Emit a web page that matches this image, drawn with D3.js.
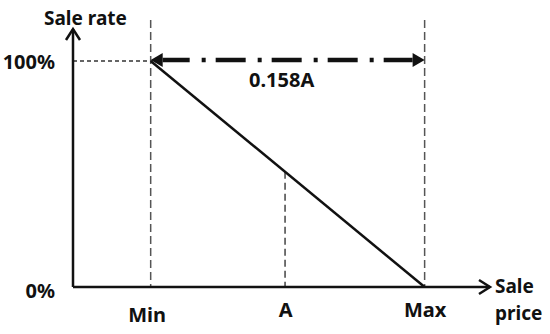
<!DOCTYPE html>
<html>
<head>
<meta charset="utf-8">
<script src="https://cdn.jsdelivr.net/npm/d3@7"></script>
<style>
  body { margin: 0; background: #fff; }
  text { font-family: "Noto Sans", sans-serif; font-weight: bold; fill: #111; }
</style>
</head>
<body>
<div id="chart"></div>
<script>
// price positions relative to A (A = 1), gap Max - Min = 0.158A
var priceLabels = ["Min", "A", "Max"];
var priceValues = [0.9225, 1, 1.0805];
var rateLabels = ["0%", "100%"];
var rateValues = [0, 1];
var gapLabel = "0.158A";

var width = 550,
    height = 334;

var x = d3.scaleLinear().domain([0.8777, 1.1182]).range([73, 490]);
var y = d3.scaleLinear().domain([0, 1]).range([287, 61]);

var svg = d3.select("#chart")
  .append("svg")
    .attr("width", width)
    .attr("height", height);

var minP = priceValues[0],
    aP = priceValues[1],
    maxP = priceValues[2];

// sale line: 100% at Min down to 0% at Max
var saleLine = [
  { price: minP, rate: rateValues[1] },
  { price: maxP, rate: rateValues[0] }
];
var rateAtA = rateValues[1] + (aP - minP) / (maxP - minP) * (rateValues[0] - rateValues[1]);

// guide lines
svg.append("g")
  .selectAll("line")
  .data([minP, maxP])
  .enter()
    .append("line")
    .attr("x1", function(d) { return x(d); })
    .attr("x2", function(d) { return x(d); })
    .attr("y1", y(1.181))
    .attr("y2", y(0))
    .attr("stroke", "#555")
    .attr("stroke-width", 1.5)
    .attr("stroke-dasharray", "8,4");

svg.append("line")
  .attr("x1", x(aP)).attr("x2", x(aP))
  .attr("y1", y(rateAtA)).attr("y2", y(0))
  .attr("stroke", "#444")
  .attr("stroke-width", 1.5)
  .attr("stroke-dasharray", "7,4");

svg.append("line")
  .attr("x1", x(0.8777)).attr("x2", x(minP))
  .attr("y1", y(1)).attr("y2", y(1))
  .attr("stroke", "#333")
  .attr("stroke-width", 1.3)
  .attr("stroke-dasharray", "4,3");

// diagonal sale rate line
var line = d3.line()
  .x(function(d) { return x(d.price); })
  .y(function(d) { return y(d.rate); });

svg.append("path")
  .datum(saleLine)
  .attr("d", line)
  .attr("fill", "none")
  .attr("stroke", "#111")
  .attr("stroke-width", 2.5);

// axes
var x0 = x(0.8777), y0 = y(0);
var yTop = y(1.1416), xEnd = x(1.1182);

svg.append("line")
  .attr("x1", x0).attr("x2", x0).attr("y1", y0).attr("y2", yTop)
  .attr("stroke", "#111").attr("stroke-width", 2.5);
svg.append("line")
  .attr("x1", x0).attr("x2", xEnd).attr("y1", y0).attr("y2", y0)
  .attr("stroke", "#111").attr("stroke-width", 2.5);

svg.append("path")
  .attr("d", "M" + (x0 - 7) + "," + (yTop + 11) + "L" + x0 + "," + yTop + "L" + (x0 + 7) + "," + (yTop + 11))
  .attr("fill", "none").attr("stroke", "#111").attr("stroke-width", 2.5);
svg.append("path")
  .attr("d", "M" + (xEnd - 11) + "," + (y0 - 7) + "L" + xEnd + "," + y0 + "L" + (xEnd - 11) + "," + (y0 + 7))
  .attr("fill", "none").attr("stroke", "#111").attr("stroke-width", 2.5);

var xAxis = d3.axisBottom(x)
  .tickValues(priceValues)
  .tickFormat(function(d, i) { return priceLabels[i]; })
  .tickSize(0)
  .tickPadding(19);

var gx = svg.append("g")
  .attr("transform", "translate(0," + y0 + ")")
  .call(xAxis);
gx.select(".domain").remove();
gx.selectAll("text")
  .attr("font-size", "20px")
  .attr("font-family", null)
  .attr("fill", "#111")
  .attr("dx", function(d, i) { return i === 0 ? -4 : 0; })
  .attr("y", function(d, i) { return i === 0 ? 21 : 16; });

var yAxis = d3.axisLeft(y)
  .tickValues(rateValues)
  .tickFormat(function(d, i) { return rateLabels[i]; })
  .tickSize(0)
  .tickPadding(18);

var gy = svg.append("g")
  .attr("transform", "translate(" + x0 + ",0)")
  .call(yAxis);
gy.select(".domain").remove();
gy.selectAll("text")
  .attr("font-size", "20px")
  .attr("font-family", null)
  .attr("fill", "#111")
  .attr("dy", function(d, i) { return i === 0 ? "0.5em" : "0.38em"; });

// axis titles
svg.append("text")
  .attr("x", 44).attr("y", 25)
  .attr("font-size", "19px")
  .text("Sale rate");

svg.append("text")
  .attr("x", xEnd + 5).attr("y", 293)
  .attr("font-size", "19px")
  .text("Sale");
svg.append("text")
  .attr("x", xEnd + 5).attr("y", 320)
  .attr("font-size", "19px")
  .text("price");

// dash-dot double arrow between Min and Max at 100%
var ay = y(1) - 1;
var head = 12;
svg.append("line")
  .attr("x1", x(minP) + head).attr("x2", x(maxP) - head)
  .attr("y1", ay).attr("y2", ay)
  .attr("stroke", "#111")
  .attr("stroke-width", 4.5)
  .attr("stroke-dasharray", "30,12,4,10")
  .attr("stroke-dashoffset", 3);

svg.append("path")
  .attr("d", "M" + x(minP) + "," + ay + "L" + (x(minP) + head) + "," + (ay - 7) + "L" + (x(minP) + head) + "," + (ay + 7) + "Z")
  .attr("fill", "#111");
svg.append("path")
  .attr("d", "M" + x(maxP) + "," + ay + "L" + (x(maxP) - head) + "," + (ay - 7) + "L" + (x(maxP) - head) + "," + (ay + 7) + "Z")
  .attr("fill", "#111");

svg.append("text")
  .attr("x", (x(minP) + x(maxP)) / 2 - 6)
  .attr("y", 87)
  .attr("text-anchor", "middle")
  .attr("font-size", "20px")
  .text(gapLabel);
</script>
</body>
</html>
